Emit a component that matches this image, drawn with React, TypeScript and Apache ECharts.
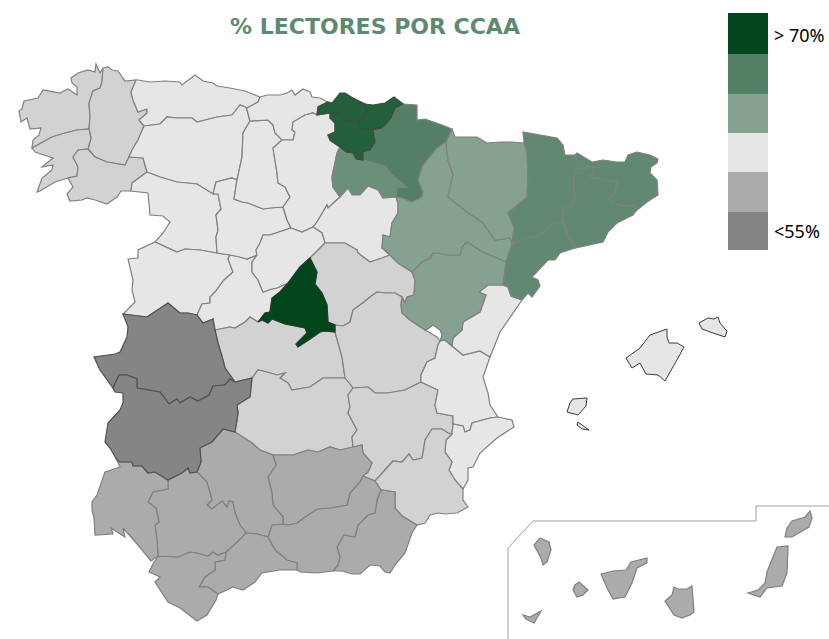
import React, { useEffect, useRef } from "react";
import * as echarts from "echarts";

const titleText = "% LECTORES POR CCAA";
const legendColors = ["#03461b", "#528065", "#84a28f", "#e6e6e6", "#ababab", "#858585"];
const legendLabels = ["> 70%", "<55%"];

const ccaaNames = ["Madrid", "País Vasco", "Navarra", "Cataluña", "La Rioja", "Aragón", "Castilla y León", "Asturias", "Cantabria", "C. Valenciana", "Baleares", "Galicia", "Castilla-La Mancha", "Murcia", "Andalucía", "Canarias", "Extremadura"];
const ccaaValues = [72, 68.5, 65.5, 64.5, 63.5, 61, 59, 59, 59, 59, 59, 57.5, 57.5, 57.5, 56, 56, 54];
const ccaaProvinces: string[][] = [
  ["Madrid"],
  ["Bizkaia", "Gipuzkoa", "Álava"],
  ["Navarra"],
  ["Lleida", "Girona", "Barcelona", "Tarragona"],
  ["La Rioja"],
  ["Huesca", "Zaragoza", "Teruel"],
  ["León", "Zamora", "Salamanca", "Ávila", "Valladolid", "Palencia", "Burgos", "Soria", "Segovia"],
  ["Asturias"],
  ["Cantabria"],
  ["Castellón", "Valencia", "Alicante"],
  ["Mallorca", "Menorca", "Ibiza", "Formentera"],
  ["A Coruña", "Lugo", "Pontevedra", "Ourense"],
  ["Guadalajara", "Toledo", "Cuenca", "Ciudad Real", "Albacete"],
  ["Murcia"],
  ["Huelva", "Sevilla", "Córdoba", "Jaén", "Cádiz", "Málaga", "Granada", "Almería"],
  ["La Palma", "La Gomera", "El Hierro", "Tenerife", "Gran Canaria", "Fuerteventura", "Lanzarote"],
  ["Cáceres", "Badajoz"],
];
const classBreaks = [
  { min: 70, color: "#03461b" },
  { min: 67, max: 70, color: "#245f3b" },
  { min: 65, max: 67, color: "#527f65" },
  { min: 64, max: 65, color: "#618870" },
  { min: 62, max: 64, color: "#6b9079" },
  { min: 60, max: 62, color: "#84a28f" },
  { min: 58, max: 60, color: "#e6e6e6" },
  { min: 57, max: 58, color: "#d2d2d2" },
  { min: 55, max: 57, color: "#ababab" },
  { max: 55, color: "#858585" },
];

// Map geometry: shared borders between provinces, in picture space.
const B: Record<string, string> = {
  cor_coast: "103,68 100,73 96,64 95,72 88,70 78,73 71,78 72,83 77,87 77,95 68,89 60,93 43,90 38,98 24,101 22,109 19,111 21,122 27,118 30,129 41,128 39,135 33,140 32,148",
  cor_pon: "32,148 43,142 52,137 65,133 77,130 89,129",
  cor_lug: "89,129 90,117 89,103 93,91 100,88 102,82 103,68",
  lug_coast: "103,68 108,67 112,70 118,71 125,81 136,80",
  lug_ast: "136,80 131,92 133,100 138,112 147,109 147,113 139,120 144,126",
  lug_leo: "144,126 138,140 132,150 129,157",
  lug_our: "129,157 125,165 107,162 95,157 88,149",
  lug_pon: "88,149 91,138 89,129",
  pon_coast: "32,148 35,152 50,157 53,158 42,167 53,165 52,170 42,178 37,192 40,191 55,182 68,178",
  pon_our: "68,178 77,176 78,167 73,157 78,150 88,149",
  our_south: "68,178 73,187 67,194 70,201 82,200 87,198 95,200 107,204 117,197 121,191 131,191",
  our_zam: "131,191 132,183 147,172",
  our_leo: "147,172 143,158 130,157 129,157",
  ast_coast: "136,80 138,80 150,82 165,81 180,82 182,85 195,75 203,81 213,83 217,86 230,88 245,91 260,97",
  ast_can: "260,97 258,102 247,108",
  ast_leo: "247,108 245,107 240,105 232,115 217,117 197,122 192,118 177,118 167,117 160,124 144,126",
  leo_can: "247,108 247,110 250,121",
  leo_pal: "250,121 243,133 242,157 237,180",
  leo_val: "237,180 232,178 216,182 213,194",
  leo_zam: "213,194 197,184 177,182 160,177 147,172",
  zam_val: "213,194 218,194 221,209 216,215 218,230 216,237 217,253",
  zam_sal: "217,253 200,250 185,249 177,252 155,242",
  zam_port: "155,242 163,233 170,222 163,216 150,215 148,193 131,191",
  sal_val: "217,253 230,255",
  sal_avi: "230,255 228,259 233,272 224,280 215,292 210,297 210,303 202,304 197,315",
  sal_cac: "197,315 188,313 180,313 168,303 147,317 123,314",
  sal_port: "123,314 135,302 132,290 133,280 128,259 138,258 138,250 155,242",
  cac_avi: "197,315 203,323 213,319 215,330",
  cac_tol: "215,330 218,343 223,360 225,368 235,382",
  cac_bad: "235,382 230,379 225,385 213,386 209,395 198,401 190,397 180,403 177,399 169,404 160,392 137,388 137,379 127,375 119,375 113,388",
  cac_port: "113,388 100,370 94,357 115,354 120,352 127,337 128,327 123,314",
  bad_tol: "235,382 252,378",
  bad_cr: "252,378 250,397 237,405 238,413 237,420 235,432",
  bad_cor: "235,432 223,429 212,442 200,448 201,462 197,472",
  bad_sev: "197,472 190,473 188,468 182,473 168,480",
  bad_hue: "168,480 155,472 148,473 142,466 133,466 132,462 120,462 117,460",
  bad_port: "117,460 110,448 105,442 108,423 120,410 123,403 123,393 115,392 113,388",
  avi_tol: "215,330 230,327 235,328 245,322 250,317 258,322",
  avi_mad: "258,322 265,313 270,312 272,298 280,292 288,283",
  avi_seg: "288,283 277,288 272,289 263,292 258,280 252,272 252,262 257,255",
  avi_val: "257,255 247,259 240,257 230,255",
  val_pal: "237,180 234,199 242,202 248,203 263,209 270,208 283,207",
  val_bur: "283,207 287,220 291,228",
  val_seg: "291,228 270,235 263,235 260,243 256,250 257,255",
  pal_can: "250,121 268,120 273,125 275,133 282,140",
  pal_bur: "282,140 273,148 277,173 278,183 285,187 290,197 283,207",
  can_coast: "260,97 267,95 280,95 287,93 292,90 295,95 303,89 310,92 312,97 320,98 328,102",
  can_biz: "328,102 318,107 317,115",
  can_bur: "317,115 313,113 305,115 293,122 292,130 295,132 293,140 282,140",
  biz_coast: "328,102 332,103 340,93 345,93 353,98 365,104",
  biz_gip: "365,104 367,110 363,118 359,120",
  biz_ala: "359,120 355,122 345,120 338,112 337,115 330,113",
  biz_bur: "330,113 317,115",
  gip_coast: "365,104 373,105 385,103 394,97 403,104",
  gip_nav: "403,104 395,108 391,118 382,128 373,130",
  gip_ala: "373,130 359,128 359,120",
  ala_nav: "373,130 375,142 370,150 363,152 363,160",
  ala_rio: "363,160 356,159 353,153 346,152 340,147",
  ala_bur: "340,147 330,140 328,135 335,132 335,123 330,118 330,113",
  rio_nav: "363,160 375,163 385,166 392,175 407,187 397,188 396,197",
  rio_sor: "396,197 383,198 378,190 368,186 360,195 352,195 348,188 340,197",
  rio_bur: "340,197 333,187 332,177 337,153 340,147",
  bur_sor: "340,197 328,208 327,205 317,222 313,227",
  bur_seg: "313,227 302,232 291,228",
  nav_coast: "403,104 417,105 417,120 425,119 442,125 452,129",
  nav_hue: "452,129 446,142",
  nav_zar: "446,142 437,148 423,165 418,180 423,192 422,197 412,202 402,198 396,197",
  sor_zar: "396,197 398,203 398,213 392,223 390,237 383,235 382,248 390,255",
  sor_gua: "390,255 382,258 370,262 358,253 357,250 345,243 338,243 325,243",
  sor_seg: "325,243 322,233 313,227",
  seg_gua: "325,243 310,258",
  seg_mad: "310,258 300,267 288,283",
  mad_gua: "310,258 317,272 315,284 322,293 327,305 328,322 335,325",
  mad_cue: "335,325 335,332",
  mad_tol: "335,332 325,331 320,332 310,339 298,347 296,344 307,333 305,328 285,324 272,319 268,323 262,320 258,322",
  gua_zar: "390,255 398,263 412,272",
  gua_ter: "412,272 415,280 414,295 407,297 405,303 402,297",
  gua_cue: "402,297 395,293 385,293 377,292 370,297 364,302 353,310 350,322 343,326 335,325",
  tol_cue: "335,332 342,357 345,378",
  tol_cr: "345,378 323,378 310,387 292,390 288,383 280,378 285,373 277,375 267,372 258,370 252,378",
  cue_ter1: "402,297 401,305 402,313 410,320 425,330",
  hole_low: "425,330 437,337 440,341",
  hole_up: "425,330 428,329 433,325 440,330 442,335 440,341",
  cue_val: "440,341 438,345 435,358 427,362 421,375 421,382",
  cue_alb: "421,382 405,390 388,393 375,393 368,387 353,388",
  cue_cr: "353,388 345,378",
  cr_alb: "353,388 348,395 350,407 348,413 357,430 352,437 353,447",
  cr_jae: "353,447 340,450 330,447 318,452 308,450 293,455 273,455",
  cr_cor: "273,455 260,450 252,443 235,432",
  alb_val: "421,382 438,390 435,405 437,413 453,416 453,424",
  alb_ali: "453,424 452,434",
  alb_mur: "452,434 448,433 442,429 432,429 425,440 423,453 422,458 413,460 409,454 402,462 393,461 375,481",
  alb_gra: "375,481 363,476",
  alb_jae: "363,476 368,472 372,463 363,453 362,445 353,447",
  vc_cas: "490,357 480,351 463,355 452,346",
  vc_ter: "452,346 445,340 440,341",
  vc_coast: "490,357 483,377 488,393 490,405 498,417",
  vc_ali: "498,417 490,418 472,423 470,430 465,432 463,426 453,424",
  cas_ter: "503,285 488,285 479,292 486,295 480,312 463,322 462,330 453,338 452,346",
  cas_cat: "522,300 511,296 508,287 503,285",
  cas_coast: "522,300 500,332 490,357",
  ter_zar: "412,272 422,262 430,258 433,253 440,253 447,255 460,255 462,247 467,242 483,252 497,258 506,262",
  ter_tar: "506,262 503,285",
  zar_hue: "446,142 447,152 448,160 453,175 448,197 467,212 483,223 495,240 510,238 512,244",
  zar_tar: "512,244 506,262",
  hue_top: "452,129 455,137 467,137 477,137 487,143 500,142 512,142 524,143",
  hue_lle: "524,143 527,152 528,177 527,197 508,213 514,227 512,244",
  lle_top: "524,143 523,132 557,138 563,145 565,155 575,155",
  lle_gir: "575,155 581,167 575,170",
  lle_bar: "575,170 574,183 575,198 572,205 563,207 563,222",
  lle_tar: "563,222 553,223 540,235 527,238 512,244",
  gir_coast: "575,155 577,153 582,156 592,162 603,160 617,162 625,162 628,155 637,152 650,155 658,159 657,163 651,167 650,173 657,180 658,195 647,202 636,211",
  gir_bar: "636,211 635,205 623,206 613,203 609,198 615,192 617,182 600,179 591,177 594,167 575,170",
  bar_coast: "636,211 633,215 617,223 608,232 603,242 575,248",
  bar_tar: "575,248 567,233 563,222",
  tar_coast: "575,248 560,253 555,260 548,260 532,277 538,280 540,286 532,297 528,293 522,300",
  ali_coast: "498,417 512,420 514,427 497,438 480,453 473,467 468,468 468,480 463,489",
  ali_mur: "463,489 455,480 449,470 452,462 445,452 446,440 452,434",
  mur_coast: "463,489 463,500 468,507 457,513 445,514 438,513 430,515 425,523 417,525",
  mur_alm: "417,525 402,516 395,508 395,492 381,490",
  mur_gra: "381,490 375,481",
  alm_coast: "417,525 412,533 405,553 395,565 390,573 385,572 380,566 370,565 360,574 352,574 342,571 333,571",
  alm_gra: "333,571 338,565 340,557 337,547 344,535 355,537 358,525 368,515 375,513 377,500 381,490",
  gra_coast: "333,571 317,573 300,572 297,570",
  gra_mal: "297,570 297,563 287,560 275,550 268,537",
  gra_cor: "268,537 272,525 283,524",
  gra_jae: "283,524 288,525 297,523 305,517 317,509 330,508 347,505 350,493 360,482 363,476",
  jae_cor: "273,455 276,465 268,477 272,493 273,505 283,517 283,524",
  cor_sev: "197,472 207,482 212,500 207,505 212,509 222,501 227,507 229,501 233,502 235,513 240,525 246,533",
  cor_mal: "246,533 257,534 268,537",
  mal_coast: "297,570 280,570 262,573 255,582 243,590 233,587 218,594",
  mal_cad: "218,594 208,587 199,587 205,577 215,570 215,562 225,560 226,552",
  mal_sev: "226,552 237,542 246,533",
  cad_sev: "226,552 218,555 213,552 208,556 197,553 190,552 178,557 158,556",
  cad_coast: "158,556 153,564 149,572 160,577 155,582 168,602 180,608 197,621 207,615 216,600 218,594",
  sev_hue: "168,480 168,489 153,492 148,502 156,508 159,522 155,525 157,540 158,556",
  huelva_port: "117,460 120,467 105,472 97,495 92,502 92,510 94,518 95,535",
  huelva_coast: "95,535 113,534 111,528 117,532 125,537 123,528 138,545 151,561 158,556",
};

const P: Record<string, string> = {
  "A Coruña": "cor_coast cor_pon cor_lug",
  Lugo: "lug_coast lug_ast lug_leo lug_our lug_pon cor_lug",
  Pontevedra: "pon_coast pon_our lug_pon -cor_pon",
  Ourense: "our_south our_zam our_leo lug_our -pon_our",
  Asturias: "ast_coast ast_can ast_leo -lug_ast",
  "León": "-ast_leo leo_can leo_pal leo_val leo_zam our_leo -lug_leo",
  Zamora: "-leo_zam zam_val zam_sal zam_port our_zam",
  Salamanca: "sal_val sal_avi sal_cac sal_port -zam_sal",
  "Ávila": "sal_avi cac_avi avi_tol avi_mad avi_seg avi_val",
  Valladolid: "val_pal val_bur val_seg avi_val -sal_val -zam_val -leo_val",
  Palencia: "pal_can pal_bur -val_pal -leo_pal",
  Cantabria: "can_coast can_biz can_bur -pal_can -leo_can -ast_can",
  Burgos: "-can_bur -biz_bur -ala_bur -rio_bur bur_sor bur_seg -val_bur -pal_bur",
  "La Rioja": "rio_nav rio_sor rio_bur -ala_rio",
  Navarra: "nav_coast nav_hue nav_zar -rio_nav -ala_nav -gip_nav",
  Soria: "-rio_sor sor_zar sor_gua sor_seg -bur_sor",
  Segovia: "-bur_seg -sor_seg seg_gua seg_mad avi_seg -val_seg",
  Guadalajara: "-seg_gua -sor_gua gua_zar gua_ter gua_cue -mad_gua",
  Toledo: "avi_tol -mad_tol tol_cue tol_cr -bad_tol -cac_tol",
  Cuenca: "-gua_cue cue_ter1 hole_low cue_val cue_alb cue_cr -tol_cue -mad_cue",
  "Ciudad Real": "-tol_cr -cue_cr cr_alb cr_jae cr_cor -bad_cr",
  Albacete: "-cue_alb alb_val alb_ali alb_mur alb_gra alb_jae -cr_alb",
  Valencia: "-vc_cas vc_coast vc_ali -alb_val -cue_val -vc_ter",
  "Castellón": "cas_coast vc_cas -cas_ter -cas_cat",
  Teruel: "ter_zar ter_tar cas_ter vc_ter -hole_up -cue_ter1 -gua_ter",
  Zaragoza: "zar_hue zar_tar -ter_zar -gua_zar -sor_zar -nav_zar",
  Huesca: "hue_top hue_lle -zar_hue -nav_hue",
  Lleida: "lle_top lle_gir lle_bar lle_tar -hue_lle",
  Girona: "gir_coast gir_bar -lle_gir",
  Barcelona: "-gir_bar bar_coast bar_tar -lle_bar",
  Tarragona: "-lle_tar -bar_tar tar_coast cas_cat -ter_tar -zar_tar",
  Alicante: "ali_coast ali_mur -alb_ali -vc_ali",
  Murcia: "-ali_mur mur_coast mur_alm mur_gra -alb_mur",
  "Almería": "alm_coast alm_gra -mur_alm",
  Granada: "gra_coast gra_mal gra_cor gra_jae -alb_gra -mur_gra -alm_gra",
  "Jaén": "-cr_jae -alb_jae -gra_jae -jae_cor",
  "Córdoba": "-bad_cor -cr_cor jae_cor -gra_cor -cor_mal -cor_sev",
  "Málaga": "mal_coast mal_cad mal_sev cor_mal -gra_mal",
  "Cádiz": "cad_sev cad_coast mal_cad",
  Sevilla: "-bad_sev cor_sev -mal_sev cad_sev -sev_hue",
  Huelva: "-bad_hue sev_hue -huelva_coast -huelva_port",
  "Cáceres": "-sal_cac cac_avi cac_tol cac_bad cac_port",
  Badajoz: "-cac_bad bad_tol bad_cr bad_cor bad_sev bad_hue bad_port",
  Bizkaia: "biz_coast biz_gip biz_ala biz_bur -can_biz",
  Gipuzkoa: "gip_coast gip_nav gip_ala -biz_gip",
  "Álava": "-biz_ala -gip_ala ala_nav ala_rio ala_bur",
  Madrid: "mad_gua mad_cue mad_tol avi_mad -seg_mad",
};

const islands: Record<string, string> = {
  Mallorca: "667,329 650,335 640,348 626,358 632,368 640,363 646,374 658,375 665,381 678,358 684,347 677,343 669,343 667,337",
  Menorca: "699,323 708,318 714,319 718,317 720,323 727,331 725,337 713,333 702,329",
  Ibiza: "573,399 587,398 586,406 578,415 567,412 570,403",
  Formentera: "578,422 589,430 582,429 577,425",
  "La Palma": "540,538 549,542 551,550 547,562 543,565 541,558 534,545",
  "La Gomera": "579,582 588,590 583,595 577,597 573,590 575,585",
  "El Hierro": "523,615 530,617 541,611 534,623 526,619",
  Tenerife: "601,574 613,571 626,570 631,562 647,558 647,563 637,568 632,583 625,597 613,599 607,588",
  "Gran Canaria": "674,587 678,589 687,589 692,586 694,612 690,615 682,618 674,615 665,601 672,595",
  Fuerteventura: "777,547 788,546 787,573 782,586 767,588 760,597 748,593 758,590 765,583 767,572",
  Lanzarote: "792,521 805,517 810,511 812,518 809,527 792,537 785,537 787,528",
};
const canaryFrame = "508,639 508,548 533,521 756,521 756,506 829,506";

const parse = (s: string) => s.split(" ").map((p) => p.split(",").map(Number));
const ring = (refs: string) => {
  const pts: number[][] = [];
  refs.split(" ").forEach((r) => {
    const rev = r[0] === "-";
    const c = parse(B[rev ? r.slice(1) : r]);
    if (rev) c.reverse();
    pts.push(...(pts.length ? c.slice(1) : c));
  });
  pts.push(pts[0]);
  return pts;
};
const feature = (name: string, coords: number[][]) => ({
  type: "Feature",
  properties: { name },
  geometry: { type: "Polygon", coordinates: [coords] },
});

const darkBorders: Record<string, string> = {
  Madrid: "#1f3d2a",
  "País Vasco": "#3c4a42",
  Extremadura: "#505050",
  Baleares: "#3c3c3c",
};

export default function App() {
  const ref = useRef<HTMLDivElement>(null);
  useEffect(() => {
    document.body.style.margin = "0";
    const features = [
      ...Object.keys(P).map((n) => feature(n, ring(P[n]))),
      ...Object.keys(islands).map((n) => {
        const c = parse(islands[n]);
        c.push(c[0]);
        return feature(n, c);
      }),
    ];
    echarts.registerMap("spain", { type: "FeatureCollection", features } as any);
    const data = ccaaNames.flatMap((ca, i) =>
      ccaaProvinces[i].map((name) => ({
        name,
        value: ccaaValues[i],
        itemStyle: {
          borderColor: darkBorders[ca] ?? "#808080",
          borderWidth: ca === "Baleares" ? 1 : 1.2,
        },
      }))
    );
    const chart = echarts.init(ref.current!, undefined, { renderer: "svg" });
    chart.setOption({
      animation: false,
      backgroundColor: "#fff",
      title: {
        text: titleText,
        left: 370,
        top: 10,
        textAlign: "center",
        textStyle: { color: "#5e8a70", fontFamily: "DejaVu Sans", fontWeight: "bold", fontSize: 22 },
      },
      visualMap: { type: "piecewise", show: false, seriesIndex: 0, pieces: classBreaks },
      series: [
        {
          type: "map",
          map: "spain",
          left: 0,
          top: 0,
          width: 829,
          height: 639,
          boundingCoords: [[0, 0], [829, 639]],
          projection: { project: (p: number[]) => [p[0], p[1]], unproject: (p: number[]) => [p[0], p[1]] },
          roam: false,
          silent: true,
          label: { show: false },
          emphasis: { disabled: true },
          select: { disabled: true },
          itemStyle: { borderColor: "#808080", borderWidth: 1.2 },
          data,
        },
      ],
      graphic: [
        ...legendColors.map((c, i) => ({
          type: "rect",
          silent: true,
          shape: { x: 728, y: [13, 54, 94, 133, 172, 212][i], width: 40, height: [41, 40, 39, 39, 40, 38][i] },
          style: { fill: c },
        })),
        { type: "text", x: 774, y: 35, silent: true, style: { text: legendLabels[0], fill: "#000", font: "18px 'Noto Sans'", textVerticalAlign: "middle" } },
        { type: "text", x: 774, y: 231, silent: true, style: { text: legendLabels[1], fill: "#000", font: "18px 'Noto Sans'", textVerticalAlign: "middle" } },
        {
          type: "polyline",
          silent: true,
          shape: { points: parse(canaryFrame) },
          style: { stroke: "#a0a0a0", lineWidth: 1, fill: "none" },
        },
      ],
    });
    return () => chart.dispose();
  }, []);
  return <div ref={ref} style={{ width: 829, height: 639 }} />;
}
